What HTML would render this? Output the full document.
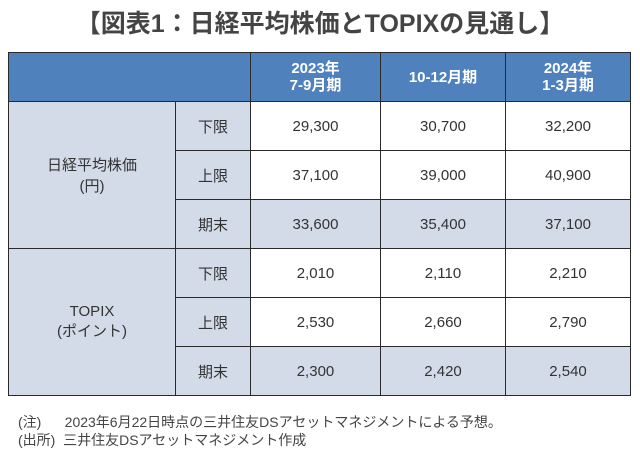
<!DOCTYPE html>
<html><head><meta charset="utf-8"><style>
body{margin:0;width:640px;height:460px;background:#fff;font-family:"Liberation Sans","Noto Sans CJK JP",sans-serif;color:#333;overflow:hidden;position:relative}
#title{position:absolute;left:0;top:4px;width:640px;text-align:center;font-size:25px;font-weight:bold;color:#444}
table{position:absolute;left:8px;top:52px;border-collapse:collapse;font-size:15px}
td{border:1.5px solid #2a2a2a;text-align:center;padding:0;height:48px}
.h{background:#4f81bd;color:#fff;font-weight:bold;line-height:17px}
.l{background:#d3dbe8}
.w{background:#fff}
.note{position:absolute;left:18px;font-size:14px;color:#444}
</style></head><body>
<div id="title">【図表1：日経平均株価とTOPIXの見通し】</div>
<table>
<tr style="height:48px"><td class="h" colspan="2" style="width:241px"></td>
<td class="h" style="width:129px">2023年<br>7-9月期</td>
<td class="h" style="width:124px">10-12月期</td>
<td class="h" style="width:124px">2024年<br>1-3月期</td></tr>
<tr><td class="l" rowspan="3" style="width:166px">日経平均株価<br>(円)</td><td class="l" style="width:74px">下限</td><td class="w">29,300</td><td class="w">30,700</td><td class="w">32,200</td></tr>
<tr><td class="l">上限</td><td class="w">37,100</td><td class="w">39,000</td><td class="w">40,900</td></tr>
<tr><td class="l">期末</td><td class="l">33,600</td><td class="l">35,400</td><td class="l">37,100</td></tr>
<tr><td class="l" rowspan="3">TOPIX<br>(ポイント)</td><td class="l">下限</td><td class="w">2,010</td><td class="w">2,110</td><td class="w">2,210</td></tr>
<tr><td class="l">上限</td><td class="w">2,530</td><td class="w">2,660</td><td class="w">2,790</td></tr>
<tr><td class="l">期末</td><td class="l">2,300</td><td class="l">2,420</td><td class="l">2,540</td></tr>
</table>
<div class="note" style="top:412px">(注)&nbsp;&nbsp;&nbsp;&nbsp;&nbsp;&nbsp;2023年6月22日時点の三井住友DSアセットマネジメントによる予想。</div>
<div class="note" style="top:430px">(出所)&nbsp;&nbsp;三井住友DSアセットマネジメント作成</div>
</body></html>
